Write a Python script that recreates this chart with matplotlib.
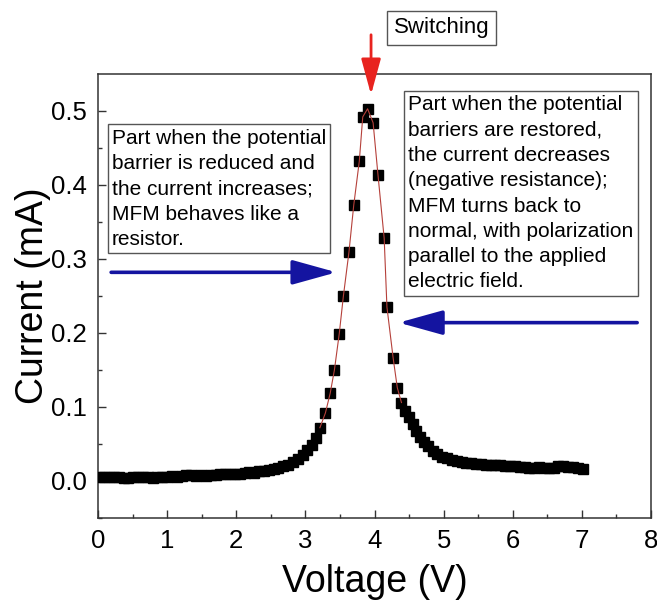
import matplotlib
matplotlib.use('Agg')
import matplotlib.pyplot as plt
import numpy as np

plt.rcParams['font.family'] = ['Liberation Sans', 'DejaVu Sans']

# Measured I-V points (read off the figure)
# low-voltage tail
v_left = [0.02, 0.09, 0.16, 0.23, 0.30, 0.37, 0.44, 0.51, 0.58, 0.65,
          0.72, 0.79, 0.86, 0.93, 1.00, 1.07, 1.14, 1.21, 1.28, 1.35,
          1.42, 1.49, 1.56, 1.63, 1.70, 1.77, 1.84, 1.91, 1.98, 2.05,
          2.12, 2.19, 2.26, 2.33, 2.40, 2.47, 2.54, 2.61, 2.68, 2.75,
          2.82, 2.89, 2.96, 3.03, 3.09, 3.15]
i_left = [0.006, 0.006, 0.005, 0.005, 0.006, 0.004, 0.004, 0.005, 0.005, 0.006,
          0.005, 0.004, 0.005, 0.006, 0.006, 0.007, 0.006, 0.007, 0.008, 0.008,
          0.007, 0.008, 0.007, 0.008, 0.008, 0.009, 0.010, 0.009, 0.009, 0.010,
          0.011, 0.012, 0.011, 0.013, 0.014, 0.015, 0.016, 0.018, 0.020, 0.022,
          0.026, 0.030, 0.035, 0.042, 0.049, 0.058]

# switching peak
v_peak = [3.21, 3.29, 3.36, 3.42, 3.49, 3.55, 3.63, 3.70, 3.78, 3.83,
          3.90, 3.98, 4.05, 4.14, 4.18, 4.27, 4.33, 4.39]
i_peak = [0.072, 0.092, 0.119, 0.150, 0.199, 0.250, 0.309, 0.373, 0.432, 0.492,
          0.503, 0.484, 0.414, 0.328, 0.235, 0.166, 0.126, 0.106]

# high-voltage tail
v_right = [4.44, 4.50, 4.55, 4.60, 4.66, 4.71, 4.77, 4.84, 4.91, 4.98,
           5.05, 5.12, 5.19, 5.26, 5.33, 5.40, 5.47, 5.54, 5.61, 5.68,
           5.75, 5.82, 5.89, 5.96, 6.03, 6.10, 6.17, 6.24, 6.31, 6.38,
           6.45, 6.52, 6.59, 6.66, 6.73, 6.80, 6.87, 6.94, 7.01]
i_right = [0.095, 0.086, 0.077, 0.068, 0.060, 0.053, 0.047, 0.041, 0.037, 0.033,
           0.031, 0.029, 0.027, 0.026, 0.025, 0.024, 0.023, 0.023, 0.022, 0.022,
           0.021, 0.021, 0.020, 0.020, 0.020, 0.019, 0.019, 0.018, 0.018, 0.019,
           0.018, 0.017, 0.018, 0.020, 0.020, 0.019, 0.019, 0.018, 0.016]

voltage = v_left + v_peak + v_right
current = i_left + i_peak + i_right

left_note = ("Part when the potential\nbarrier is reduced and\n"
             "the current increases;\nMFM behaves like a\nresistor.")
right_note = ("Part when the potential\nbarriers are restored,\n"
              "the current decreases\n(negative resistance);\n"
              "MFM turns back to\nnormal, with polarization\n"
              "parallel to the applied\nelectric field.")

fig = plt.figure(figsize=(6.57, 6.09), dpi=100)
ax = fig.add_axes([98/657, 1 - 518/609, 553/657, 444/609])

ax.plot(voltage, current, 's', color='black', markersize=7.5, zorder=3)
# fitted curve through the peak
ax.plot(v_peak, i_peak, color='#b5403a', linewidth=0.8, zorder=4)

ax.set_xlim(0, 8)
ax.set_ylim(-0.05, 0.55)
ax.set_xticks(range(0, 9))
ax.set_yticks([0.0, 0.1, 0.2, 0.3, 0.4, 0.5])
ax.set_yticklabels(['0.0', '0.1', '0.2', '0.3', '0.4', '0.5'])
ax.set_xticks(np.arange(0.5, 8, 1.0), minor=True)
ax.set_yticks([-0.05, 0.05, 0.15, 0.25, 0.35, 0.45], minor=True)
ax.tick_params(which='both', direction='in', labelsize=18.5, color='#333333')
ax.tick_params(which='major', length=6, width=1, pad=8)
ax.tick_params(which='minor', length=3, width=1)
for s in ax.spines.values():
    s.set_linewidth(1.1)
    s.set_color('#333333')

ax.set_xlabel('Voltage (V)', fontsize=27, labelpad=8)
ax.set_ylabel('Current (mA)', fontsize=27, labelpad=0)

box = dict(boxstyle='square,pad=0.2', facecolor='white', edgecolor='#555555', linewidth=1)
ax.text(0.025, 0.877, left_note, transform=ax.transAxes, fontsize=15,
        va='top', ha='left', linespacing=1.42, bbox=box)
ax.text(0.561, 0.952, right_note, transform=ax.transAxes, fontsize=15,
        va='top', ha='left', linespacing=1.42, bbox=box)
ax.text(0.622, 1.104, 'Switching', transform=ax.transAxes, fontsize=16,
        va='center', ha='center', bbox=dict(boxstyle='square,pad=0.3', facecolor='white',
                                            edgecolor='#555555', linewidth=1), clip_on=False)

# red switching arrow
ax.annotate('', xy=(3.95, 0.522), xytext=(3.95, 0.603),
            arrowprops=dict(arrowstyle='-|>,head_length=2.2,head_width=0.6',
                            color='#e8231f', lw=2, shrinkA=0, shrinkB=0,
                            mutation_scale=10),
            annotation_clip=False)
# blue arrows
blue = dict(arrowstyle='-|>,head_length=2.7,head_width=0.75', color='#1414a0',
            lw=2.6, shrinkA=0, shrinkB=0, mutation_scale=10)
ax.annotate('', xy=(3.45, 0.282), xytext=(0.19, 0.282), arrowprops=blue)
ax.annotate('', xy=(4.35, 0.214), xytext=(7.80, 0.214), arrowprops=blue)

fig.savefig('out.png', dpi=100)
